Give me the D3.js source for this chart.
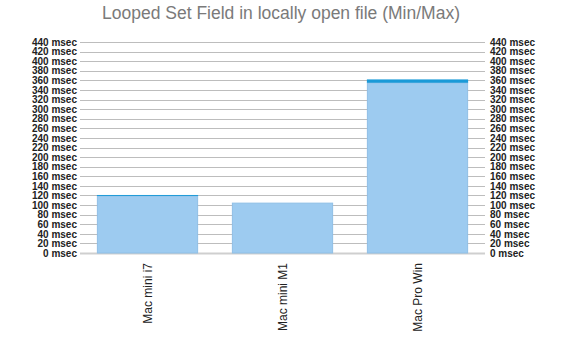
<!DOCTYPE html>
<html lang="en">
<head>
<meta charset="UTF-8">
<title>Looped Set Field</title>
<style>
  body { margin: 0; background: #fff; }
  text { font-family: "Liberation Sans", Arial, sans-serif; }
</style>
<script src="https://d3js.org/d3.v7.min.js"></script>
</head>
<body>
<script>
// data
const machines = ["Mac mini i7", "Mac mini M1", "Mac Pro Win"];
const minTimes = [119, 104, 355];
const maxTimes = [121, 104, 362];
const yTicks = d3.range(0, 441, 20);

const width = 561, height = 354;
const margin = { top: 42, right: 76, bottom: 101, left: 80 };

const svg = d3.select("body").append("svg")
  .attr("width", width)
  .attr("height", height);

const x = d3.scaleBand()
  .domain(machines)
  .range([margin.left, width - margin.right])
  .paddingInner(0.25)
  .paddingOuter(0.125);

const y = d3.scaleLinear()
  .domain([0, 440])
  .range([height - margin.bottom, margin.top]);

// title
svg.append("text")
  .attr("x", 281)
  .attr("y", 19)
  .attr("text-anchor", "middle")
  .style("font-size", "17.5px")
  .style("fill", "#7a7a7a")
  .text("Looped Set Field in locally open file (Min/Max)");

// gridlines
svg.append("g")
  .selectAll("line")
  .data(yTicks)
  .join("line")
  .attr("x1", margin.left)
  .attr("x2", width - margin.right)
  .attr("y1", d => Math.round(y(d)) + 0.5)
  .attr("y2", d => Math.round(y(d)) + 0.5)
  .attr("stroke", d => d === 0 ? "#cfcfcf" : "#bdbdbd")
  .attr("stroke-width", d => d === 0 ? 2 : 1);

// left axis labels
const fmt = d => d + " msec";
svg.append("g")
  .attr("transform", `translate(${margin.left},0)`)
  .call(d3.axisLeft(y).tickValues(yTicks).tickFormat(fmt).tickSize(0).tickPadding(3))
  .call(g => g.select(".domain").remove())
  .selectAll("text")
  .style("font-size", "10px")
  .style("font-weight", "bold")
  .style("fill", "#222");

// right axis labels
svg.append("g")
  .attr("transform", `translate(${width - margin.right},0)`)
  .call(d3.axisRight(y).tickValues(yTicks).tickFormat(fmt).tickSize(0).tickPadding(5))
  .call(g => g.select(".domain").remove())
  .selectAll("text")
  .style("font-size", "10px")
  .style("font-weight", "bold")
  .style("fill", "#222");

// min bars
svg.append("g")
  .selectAll("rect")
  .data(machines)
  .join("rect")
  .attr("x", d => x(d) + 0.5)
  .attr("width", x.bandwidth() - 1)
  .attr("y", (d, i) => y(minTimes[i]))
  .attr("height", (d, i) => y(0) - y(minTimes[i]))
  .attr("fill", "#9dcbf0")
  .attr("stroke", "#8fbfe6")
  .attr("stroke-width", 1);

// max segment on top
svg.append("g")
  .selectAll("rect")
  .data(machines)
  .join("rect")
  .attr("x", d => x(d))
  .attr("width", x.bandwidth())
  .attr("y", (d, i) => y(maxTimes[i]))
  .attr("height", (d, i) => Math.max(0, y(minTimes[i]) - y(maxTimes[i])))
  .attr("fill", "#1a9ad8");

// category labels
svg.append("g")
  .selectAll("text")
  .data(machines)
  .join("text")
  .attr("transform", d => `translate(${x(d) + x.bandwidth() / 2 + 4},${y(0) + 10}) rotate(-90)`)
  .attr("text-anchor", "end")
  .style("font-size", "12px")
  .style("fill", "#222")
  .text(d => d);
</script>
</body>
</html>
